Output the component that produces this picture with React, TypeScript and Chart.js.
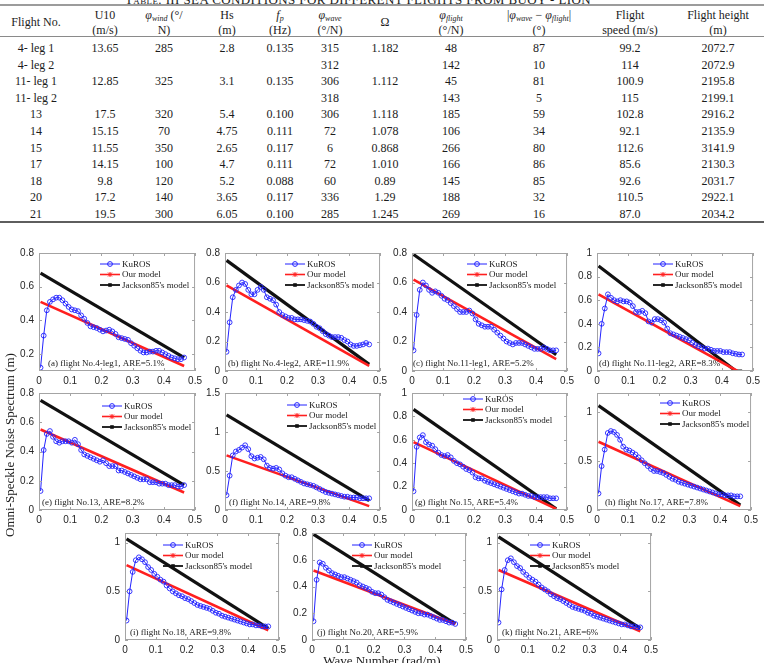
import React, { useEffect, useRef } from "react";
import { Chart, registerables } from "chart.js";

Chart.register(...registerables);

// ---------- table values ----------
const tableHeader = [
  "Flight No.", "U10", "φwind", "Hs", "fp", "φwave", "Ω", "φflight", "|φwave − φflight|", "Flight speed", "Flight height",
];
const tableRows = [
  ["4- leg 1", "13.65", "285", "2.8", "0.135", "315", "1.182", "48", "87", "99.2", "2072.7"],
  ["4- leg 2", "", "", "", "", "312", "", "142", "10", "114", "2072.9"],
  ["11- leg 1", "12.85", "325", "3.1", "0.135", "306", "1.112", "45", "81", "100.9", "2195.8"],
  ["11- leg 2", "", "", "", "", "318", "", "143", "5", "115", "2199.1"],
  ["13", "17.5", "320", "5.4", "0.100", "306", "1.118", "185", "59", "102.8", "2916.2"],
  ["14", "15.15", "70", "4.75", "0.111", "72", "1.078", "106", "34", "92.1", "2135.9"],
  ["15", "11.55", "350", "2.65", "0.117", "6", "0.868", "266", "80", "112.6", "3141.9"],
  ["17", "14.15", "100", "4.7", "0.111", "72", "1.010", "166", "86", "85.6", "2130.3"],
  ["18", "9.8", "120", "5.2", "0.088", "60", "0.89", "145", "85", "92.6", "2031.7"],
  ["20", "17.2", "140", "3.65", "0.117", "336", "1.29", "188", "32", "110.5", "2922.1"],
  ["21", "19.5", "300", "6.05", "0.100", "285", "1.245", "269", "16", "87.0", "2034.2"],
];

// ---------- spectra ----------
const waveNumber = [
  0.005, 0.015, 0.025, 0.035, 0.045, 0.055, 0.065, 0.075, 0.085, 0.095,
  0.105, 0.115, 0.125, 0.135, 0.145, 0.155, 0.165, 0.175, 0.185, 0.195,
  0.205, 0.215, 0.225, 0.235, 0.245, 0.255, 0.265, 0.275, 0.285, 0.295,
  0.305, 0.315, 0.325, 0.335, 0.345, 0.355, 0.365, 0.375, 0.385, 0.395,
  0.405, 0.415, 0.425, 0.435, 0.445, 0.455, 0.465,
];
const xTicks = [0, 0.1, 0.2, 0.3, 0.4, 0.5];
const modelEnds = [0.005, 0.465];

const kurosA = [
  0.12, 0.31, 0.46, 0.51, 0.525, 0.535, 0.535, 0.52, 0.5, 0.48,
  0.465, 0.46, 0.455, 0.43, 0.41, 0.385, 0.365, 0.36, 0.355, 0.345,
  0.335, 0.34, 0.345, 0.335, 0.32, 0.3, 0.295, 0.29, 0.285, 0.265,
  0.25, 0.235, 0.22, 0.21, 0.21, 0.215, 0.215, 0.22, 0.22, 0.21,
  0.2, 0.19, 0.18, 0.175, 0.17, 0.17, 0.18,
];
const ourA = [0.51, 0.13];
const jacksonA = [0.68, 0.18];

const kurosB = [
  0.13, 0.33, 0.5, 0.55, 0.58, 0.6, 0.59, 0.55, 0.52, 0.52,
  0.55, 0.57, 0.55, 0.5, 0.49, 0.48, 0.45, 0.4, 0.38, 0.37,
  0.36, 0.36, 0.35, 0.35, 0.35, 0.345, 0.34, 0.335, 0.32, 0.3,
  0.29, 0.27, 0.25, 0.24, 0.23, 0.23, 0.23, 0.225, 0.21, 0.2,
  0.18, 0.17, 0.17, 0.175, 0.18, 0.19, 0.18,
];
const ourB = [0.58, 0.035];
const jacksonB = [0.75, 0.045];

const kurosC = [
  0.14, 0.38, 0.55, 0.6, 0.58, 0.55, 0.53, 0.54, 0.53, 0.51,
  0.49, 0.48, 0.46, 0.44, 0.42, 0.4, 0.4, 0.4, 0.41, 0.39,
  0.35, 0.32, 0.31, 0.3, 0.3, 0.3, 0.28, 0.26, 0.24, 0.22,
  0.2, 0.19, 0.18, 0.19, 0.19, 0.19, 0.18, 0.17, 0.16, 0.15,
  0.15, 0.15, 0.16, 0.15, 0.14, 0.14, 0.14,
];
const ourC = [0.62, 0.08];
const jacksonC = [0.79, 0.11];

const kurosD = [
  0.15, 0.4, 0.53, 0.65, 0.62, 0.6, 0.59, 0.6, 0.59, 0.59,
  0.58, 0.55, 0.5, 0.5, 0.51, 0.49, 0.42, 0.41, 0.44, 0.44,
  0.43, 0.41, 0.36, 0.32, 0.31, 0.3, 0.29, 0.28, 0.27, 0.26,
  0.24, 0.22, 0.21, 0.2, 0.19, 0.19, 0.18, 0.17, 0.17, 0.17,
  0.16, 0.16, 0.16, 0.15, 0.145, 0.14, 0.14,
];
const ourKD = [0.005, 0.45];
const ourD = [0.65, 0.0];
const jacksonKD = [0.005, 0.445, 0.465];
const jacksonD = [0.89, 0.0, 0.0];

const kurosE = [
  0.13, 0.41, 0.52, 0.54, 0.5, 0.47, 0.46, 0.47, 0.47, 0.47,
  0.46, 0.48, 0.45, 0.41, 0.38, 0.37, 0.36, 0.35, 0.34, 0.33,
  0.34, 0.32, 0.3, 0.3, 0.3, 0.27, 0.27, 0.26, 0.25, 0.24,
  0.23, 0.22, 0.21, 0.21, 0.21, 0.19, 0.19, 0.19, 0.18, 0.18,
  0.18, 0.17, 0.17, 0.17, 0.16, 0.16, 0.17,
];
const ourE = [0.55, 0.12];
const jacksonE = [0.75, 0.17];

const kurosF = [
  0.19, 0.44, 0.7, 0.75, 0.77, 0.8, 0.83, 0.78, 0.69, 0.66,
  0.67, 0.68, 0.65, 0.57, 0.54, 0.53, 0.54, 0.52, 0.47, 0.44,
  0.42, 0.42, 0.4, 0.38, 0.36, 0.34, 0.33, 0.32, 0.31, 0.29,
  0.27, 0.25, 0.23, 0.22, 0.21, 0.2, 0.19, 0.18, 0.17, 0.17,
  0.16, 0.16, 0.16, 0.15, 0.15, 0.15, 0.15,
];
const ourF = [0.7, 0.05];
const jacksonF = [1.22, 0.12];

const kurosG = [
  0.16, 0.54, 0.62, 0.64, 0.58, 0.56, 0.55, 0.52, 0.49, 0.47,
  0.46, 0.47, 0.45, 0.42, 0.4, 0.39, 0.37, 0.35, 0.34, 0.32,
  0.28, 0.27, 0.27, 0.25, 0.24, 0.23, 0.22, 0.21, 0.2, 0.19,
  0.18, 0.17, 0.16, 0.15, 0.14, 0.14, 0.13, 0.12, 0.12, 0.11,
  0.11, 0.11, 0.11, 0.11, 0.1, 0.1, 0.1,
];
const ourG = [0.58, 0.01];
const jacksonG = [0.86, 0.01];

const kurosH = [
  0.17, 0.45, 0.62, 0.79, 0.81, 0.8, 0.77, 0.72, 0.65, 0.62,
  0.61, 0.59, 0.57, 0.54, 0.51, 0.48, 0.45, 0.42, 0.4, 0.4,
  0.39, 0.38, 0.36, 0.34, 0.32, 0.31, 0.29, 0.28, 0.27, 0.26,
  0.25, 0.24, 0.23, 0.22, 0.21, 0.2, 0.19, 0.18, 0.17, 0.16,
  0.16, 0.15, 0.15, 0.15, 0.14, 0.14, 0.14,
];
const ourH = [0.7, 0.04];
const jacksonH = [1.07, 0.05];

const kurosI = [
  0.2, 0.5, 0.7, 0.82, 0.85, 0.83, 0.8, 0.75, 0.72, 0.68,
  0.65, 0.62, 0.6, 0.56, 0.53, 0.5, 0.48, 0.46, 0.45, 0.43,
  0.42, 0.4, 0.38, 0.36, 0.35, 0.34, 0.33, 0.32, 0.3, 0.28,
  0.27, 0.25, 0.24, 0.23, 0.22, 0.21, 0.2, 0.19, 0.18, 0.17,
  0.16, 0.16, 0.15, 0.15, 0.14, 0.14, 0.14,
];
const ourI = [0.77, 0.1];
const jacksonI = [1.04, 0.12];

const kurosJ = [
  0.14, 0.45, 0.58, 0.57, 0.54, 0.52, 0.5, 0.49, 0.48, 0.47,
  0.47, 0.46, 0.45, 0.44, 0.43, 0.41, 0.4, 0.39, 0.38, 0.36,
  0.35, 0.35, 0.34, 0.32, 0.3, 0.29, 0.28, 0.27, 0.26, 0.25,
  0.24, 0.23, 0.22, 0.21, 0.2, 0.2, 0.19, 0.19, 0.18, 0.17,
  0.16, 0.15, 0.15, 0.14, 0.13, 0.13, 0.12,
];
const ourJ = [0.52, 0.12];
const jacksonJ = [0.79, 0.12];

const kurosK = [
  0.18, 0.52, 0.72, 0.82, 0.84, 0.8, 0.76, 0.74, 0.7, 0.67,
  0.64, 0.62, 0.6, 0.57, 0.54, 0.52, 0.5, 0.47, 0.45, 0.43,
  0.42, 0.4, 0.38, 0.36, 0.34, 0.33, 0.32, 0.31, 0.3, 0.28,
  0.27, 0.25, 0.24, 0.23, 0.22, 0.21, 0.2, 0.19, 0.18, 0.17,
  0.16, 0.16, 0.15, 0.14, 0.14, 0.13, 0.13,
];
const ourK = [0.72, 0.09];
const jacksonK = [1.06, 0.12];

const ticksFrom02 = [0.2, 0.4, 0.6, 0.8];
const ticks08 = [0, 0.2, 0.4, 0.6, 0.8];
const ticks10 = [0, 0.2, 0.4, 0.6, 0.8, 1];
const ticksHalf = [0, 0.5, 1];
const ticks15 = [0, 0.5, 1, 1.5];

// ---------- layout ----------
type PanelSpec = {
  caption: string;
  kuros: number[];
  ourX: number[];
  ourY: number[];
  jackX: number[];
  jackY: number[];
  yMin: number;
  yMax: number;
  yTicks: number[];
  box: [number, number, number, number]; // left, top, right, bottom of plot area
  legend: [number, number]; // offset of first legend row from plot corner
  capDx: number;
};

const panels: PanelSpec[] = [
  { caption: "(a) flight No.4-leg1, ARE=5.1%", kuros: kurosA, ourX: modelEnds, ourY: ourA, jackX: modelEnds, jackY: jacksonA, yMin: 0.1, yMax: 0.8, yTicks: ticksFrom02, box: [39, 250, 196, 371], legend: [61, 11], capDx: 9 },
  { caption: "(b) flight No.4-leg2, ARE=11.9%", kuros: kurosB, ourX: modelEnds, ourY: ourB, jackX: modelEnds, jackY: jacksonB, yMin: 0, yMax: 0.8, yTicks: ticks08, box: [225, 250, 381, 371], legend: [60, 11], capDx: 3 },
  { caption: "(c) flight No.11-leg1, ARE=5.2%", kuros: kurosC, ourX: modelEnds, ourY: ourC, jackX: modelEnds, jackY: jacksonC, yMin: 0, yMax: 0.8, yTicks: ticks08, box: [412, 250, 568, 371], legend: [55, 11], capDx: 1 },
  { caption: "(d) flight No.11-leg2, ARE=8.3%", kuros: kurosD, ourX: ourKD, ourY: ourD, jackX: jacksonKD, jackY: jacksonD, yMin: 0, yMax: 1, yTicks: ticks10, box: [597, 250, 754, 371], legend: [56, 11], capDx: 2 },
  { caption: "(e) flight No.13, ARE=8.2%", kuros: kurosE, ourX: modelEnds, ourY: ourE, jackX: modelEnds, jackY: jacksonE, yMin: 0, yMax: 0.8, yTicks: ticks08, box: [39, 390, 196, 510], legend: [63, 13], capDx: 3 },
  { caption: "(f) flight No.14, ARE=9.8%", kuros: kurosF, ourX: modelEnds, ourY: ourF, jackX: modelEnds, jackY: jacksonF, yMin: 0, yMax: 1.5, yTicks: ticks15, box: [225, 390, 381, 510], legend: [62, 12], capDx: 4 },
  { caption: "(g) flight No.15, ARE=5.4%", kuros: kurosG, ourX: modelEnds, ourY: ourG, jackX: modelEnds, jackY: jacksonG, yMin: 0, yMax: 1, yTicks: ticks10, box: [412, 390, 568, 510], legend: [51, 6], capDx: 3 },
  { caption: "(h) flight No.17, ARE=7.8%", kuros: kurosH, ourX: modelEnds, ourY: ourH, jackX: modelEnds, jackY: jacksonH, yMin: 0, yMax: 1.2, yTicks: ticksHalf, box: [597, 390, 752, 510], legend: [63, 10], capDx: 8 },
  { caption: "(i) flight No.18, ARE=9.8%", kuros: kurosI, ourX: modelEnds, ourY: ourI, jackX: modelEnds, jackY: jacksonI, yMin: 0, yMax: 1.1, yTicks: ticksHalf, box: [125, 530, 280, 640], legend: [38, 12], capDx: 5 },
  { caption: "(j) flight No.20, ARE=5.9%", kuros: kurosJ, ourX: modelEnds, ourY: ourJ, jackX: modelEnds, jackY: jacksonJ, yMin: 0, yMax: 0.8, yTicks: ticks08, box: [312, 530, 467, 640], legend: [40, 12], capDx: 5 },
  { caption: "(k) flight No.21, ARE=6%", kuros: kurosK, ourX: modelEnds, ourY: ourK, jackX: modelEnds, jackY: jacksonK, yMin: 0, yMax: 1.1, yTicks: ticksHalf, box: [497, 530, 652, 640], legend: [33, 12], capDx: 5 },
];

const PAD_L = 34;
const PAD_R = 10;
const PAD_T = 8;
const PAD_B = 22;

const BLUE = "#2323ff";
const RED = "#ff1f1f";
const BLACK = "#111111";
const AXIS = "#a4a4a4";
const SERIF = '"Liberation Serif", "Times New Roman", serif';
const SANS = '"Liberation Sans", Arial, sans-serif';

function drawMarker(ctx: CanvasRenderingContext2D, kind: number, x: number, y: number) {
  ctx.save();
  if (kind === 0) {
    ctx.strokeStyle = BLUE;
    ctx.lineWidth = 1;
    ctx.beginPath();
    ctx.arc(x, y, 2.4, 0, Math.PI * 2);
    ctx.stroke();
  } else if (kind === 1) {
    ctx.strokeStyle = RED;
    ctx.lineWidth = 1;
    ctx.beginPath();
    ctx.moveTo(x - 2, y - 2); ctx.lineTo(x + 2, y + 2);
    ctx.moveTo(x - 2, y + 2); ctx.lineTo(x + 2, y - 2);
    ctx.moveTo(x, y - 2.5); ctx.lineTo(x, y + 2.5);
    ctx.stroke();
  } else {
    ctx.fillStyle = BLACK;
    ctx.fillRect(x - 1.8, y - 1.8, 3.6, 3.6);
  }
  ctx.restore();
}

function SpectrumPanel({ spec }: { spec: PanelSpec }) {
  const ref = useRef<HTMLCanvasElement>(null);
  const [l, t, r, b] = spec.box;
  const w = r - l + PAD_L + PAD_R;
  const h = b - t + PAD_T + PAD_B;

  useEffect(() => {
    const canvas = ref.current;
    if (!canvas) return;

    const decorations = {
      id: "axesBox",
      afterDatasetsDraw(chart: any) {
        const { ctx, chartArea: a, scales } = chart;
        ctx.save();
        // box with inward ticks on all four sides
        ctx.strokeStyle = AXIS;
        ctx.lineWidth = 1;
        ctx.strokeRect(a.left + 0.5, a.top + 0.5, a.right - a.left - 1, a.bottom - a.top - 1);
        ctx.beginPath();
        for (const v of xTicks) {
          const x = Math.round(scales.x.getPixelForValue(v)) + 0.5;
          ctx.moveTo(x, a.bottom); ctx.lineTo(x, a.bottom - 3);
          ctx.moveTo(x, a.top); ctx.lineTo(x, a.top + 3);
        }
        for (const v of spec.yTicks) {
          const y = Math.round(scales.y.getPixelForValue(v)) + 0.5;
          ctx.moveTo(a.left, y); ctx.lineTo(a.left + 3, y);
          ctx.moveTo(a.right, y); ctx.lineTo(a.right - 3, y);
        }
        ctx.stroke();

        // legend
        const labels = ["KuROS", "Our model", "Jackson85's model"];
        const colors = [BLUE, RED, BLACK];
        const widths = [1, 1.6, 1.8];
        ctx.font = `9px ${SERIF}`;
        ctx.textBaseline = "middle";
        labels.forEach((label, i) => {
          const y = a.top + spec.legend[1] + i * 10.5;
          const x0 = a.left + spec.legend[0];
          const x1 = x0 + 20;
          ctx.strokeStyle = colors[i];
          ctx.lineWidth = widths[i];
          ctx.beginPath();
          ctx.moveTo(x0, y); ctx.lineTo(x1, y);
          ctx.stroke();
          drawMarker(ctx, i, (x0 + x1) / 2, y);
          ctx.fillStyle = "#1a1a1a";
          ctx.fillText(label, x1 + 2, y + 0.5);
        });

        // panel caption
        ctx.font = `9px ${SERIF}`;
        ctx.textBaseline = "alphabetic";
        ctx.fillStyle = "#1a1a1a";
        ctx.fillText(spec.caption, a.left + spec.capDx, a.bottom - 5);
        ctx.restore();
      },
    };

    const chart = new Chart(canvas, {
      type: "line",
      data: {
        datasets: [
          {
            label: "KuROS",
            data: waveNumber.map((x, i) => ({ x, y: spec.kuros[i] })),
            borderColor: BLUE,
            borderWidth: 1,
            pointRadius: 2.4,
            pointBorderWidth: 0.9,
            pointBorderColor: BLUE,
            pointBackgroundColor: "rgba(255,255,255,0)",
            tension: 0,
          },
          {
            label: "Our model",
            data: spec.ourX.map((x, i) => ({ x, y: spec.ourY[i] })),
            borderColor: RED,
            borderWidth: 2.6,
            pointRadius: 0,
          },
          {
            label: "Jackson85's model",
            data: spec.jackX.map((x, i) => ({ x, y: spec.jackY[i] })),
            borderColor: BLACK,
            borderWidth: 3.2,
            pointRadius: 0,
          },
        ],
      },
      options: {
        animation: false,
        responsive: false,
        devicePixelRatio: 1,
        layout: { padding: { left: 0, right: PAD_R, top: PAD_T, bottom: 0 } },
        plugins: { legend: { display: false }, tooltip: { enabled: false } },
        scales: {
          x: {
            type: "linear",
            min: 0,
            max: 0.5,
            grid: { display: false, drawTicks: false },
            border: { display: false },
            ticks: {
              padding: 4,
              color: "#262626",
              font: { family: SANS, size: 10 },
              callback: (v: any) => String(v),
            },
            afterBuildTicks: (axis: any) => {
              axis.ticks = xTicks.map((value) => ({ value }));
            },
            afterFit: (axis: any) => {
              axis.height = PAD_B;
            },
          },
          y: {
            type: "linear",
            min: spec.yMin,
            max: spec.yMax,
            grid: { display: false, drawTicks: false },
            border: { display: false },
            ticks: {
              padding: 5,
              color: "#262626",
              font: { family: SANS, size: 10 },
              callback: (v: any) => String(v),
            },
            afterBuildTicks: (axis: any) => {
              axis.ticks = spec.yTicks.map((value) => ({ value }));
            },
            afterFit: (axis: any) => {
              axis.width = PAD_L;
            },
          },
        },
      } as any,
      plugins: [decorations],
    });
    return () => chart.destroy();
  }, [spec]);

  return (
    <canvas
      ref={ref}
      width={w}
      height={h}
      style={{ position: "absolute", left: l - PAD_L, top: t - PAD_T, width: w, height: h }}
    />
  );
}

// ---------- table ----------
const colCenters = [36, 105, 164, 227, 280, 330, 385, 451, 539, 630, 718];
const rowY0 = 48;
const rowStep = 16.6;

const subStyle: React.CSSProperties = { fontSize: 8, fontStyle: "italic", verticalAlign: "-2px", lineHeight: 0 };
const phiStyle: React.CSSProperties = { fontStyle: "italic" };

function Cell({ x, y, children }: { x: number; y: number; children: React.ReactNode }) {
  return (
    <div
      style={{
        position: "absolute",
        left: x - 80,
        top: y - 8,
        width: 160,
        height: 16,
        lineHeight: "16px",
        textAlign: "center",
        whiteSpace: "nowrap",
      }}
    >
      {children}
    </div>
  );
}

function Rule({ y, h, color }: { y: number; h: number; color: string }) {
  return <div style={{ position: "absolute", left: 0, top: y, width: 764, height: h, background: color }} />;
}

function SeaTable() {
  const Phi = ({ s }: { s: string }) => (
    <span>
      <span style={phiStyle}>φ</span>
      <sub style={subStyle}>{s}</sub>
    </span>
  );
  const H1 = 15;
  const H2 = 30;
  return (
    <div style={{ position: "absolute", left: 0, top: 0, width: 764, height: 230, fontFamily: SERIF, fontSize: 12, color: "#1c1c1c" }}>
      <div
        style={{
          position: "absolute",
          left: 358 - 250,
          top: -7.5,
          width: 500,
          textAlign: "center",
          fontSize: 13,
          lineHeight: "13px",
          letterSpacing: 0.4,
          whiteSpace: "nowrap",
          fontVariant: "small-caps",
        }}
      >
        Table. III SEA CONDITIONS FOR DIFFERENT FLIGHTS FROM BUOY - LION
      </div>
      <Rule y={4} h={2} color="#9c9c9c" />
      <Cell x={colCenters[0]} y={22}>{tableHeader[0]}</Cell>
      <Cell x={colCenters[1]} y={H1}>{tableHeader[1]}</Cell>
      <Cell x={colCenters[1]} y={H2}>(m/s)</Cell>
      <Cell x={colCenters[2]} y={H1}><Phi s="wind" /> (°/</Cell>
      <Cell x={colCenters[2]} y={H2}>N)</Cell>
      <Cell x={colCenters[3]} y={H1}>{tableHeader[3]}</Cell>
      <Cell x={colCenters[3]} y={H2}>(m)</Cell>
      <Cell x={colCenters[4]} y={H1}>
        <span style={phiStyle}>f</span>
        <sub style={subStyle}>p</sub>
      </Cell>
      <Cell x={colCenters[4]} y={H2}>(Hz)</Cell>
      <Cell x={colCenters[5]} y={H1}><Phi s="wave" /></Cell>
      <Cell x={colCenters[5]} y={H2}>(°/N)</Cell>
      <Cell x={colCenters[6]} y={22}>{tableHeader[6]}</Cell>
      <Cell x={colCenters[7]} y={H1}><Phi s="flight" /></Cell>
      <Cell x={colCenters[7]} y={H2}>(°/N)</Cell>
      <Cell x={colCenters[8]} y={H1}>
        |<Phi s="wave" /> − <Phi s="flight" />|
      </Cell>
      <Cell x={colCenters[8]} y={H2}>(°)</Cell>
      <Cell x={colCenters[9]} y={H1}>Flight</Cell>
      <Cell x={colCenters[9]} y={H2}>speed (m/s)</Cell>
      <Cell x={colCenters[10]} y={H1}>{tableHeader[10]}</Cell>
      <Cell x={colCenters[10]} y={H2}>(m)</Cell>
      <Rule y={36} h={1} color="#8a8a8a" />
      {tableRows.map((row, i) =>
        row.map((v, j) => (
          <Cell key={`${i}-${j}`} x={colCenters[j]} y={rowY0 + i * rowStep}>
            {v}
          </Cell>
        ))
      )}
      <Rule y={221} h={2} color="#5e5e5e" />
    </div>
  );
}

export default function App() {
  return (
    <div style={{ position: "absolute", left: 0, top: 0, width: 764, height: 663, background: "#fff", overflow: "hidden" }}>
      <SeaTable />
      {panels.map((p, i) => (
        <SpectrumPanel key={i} spec={p} />
      ))}
      <div
        style={{
          position: "absolute",
          left: 10 - 150,
          top: 445 - 9,
          width: 300,
          height: 18,
          lineHeight: "18px",
          textAlign: "center",
          fontFamily: SERIF,
          fontSize: 13,
          color: "#1c1c1c",
          transform: "rotate(-90deg)",
          whiteSpace: "nowrap",
        }}
      >
        Omni-Speckle Noise Spectrum (m)
      </div>
      <div
        style={{
          position: "absolute",
          left: 382 - 150,
          top: 661 - 9,
          width: 300,
          height: 18,
          lineHeight: "18px",
          textAlign: "center",
          fontFamily: SERIF,
          fontSize: 13,
          color: "#1c1c1c",
          whiteSpace: "nowrap",
        }}
      >
        Wave Number (rad/m)
      </div>
    </div>
  );
}
